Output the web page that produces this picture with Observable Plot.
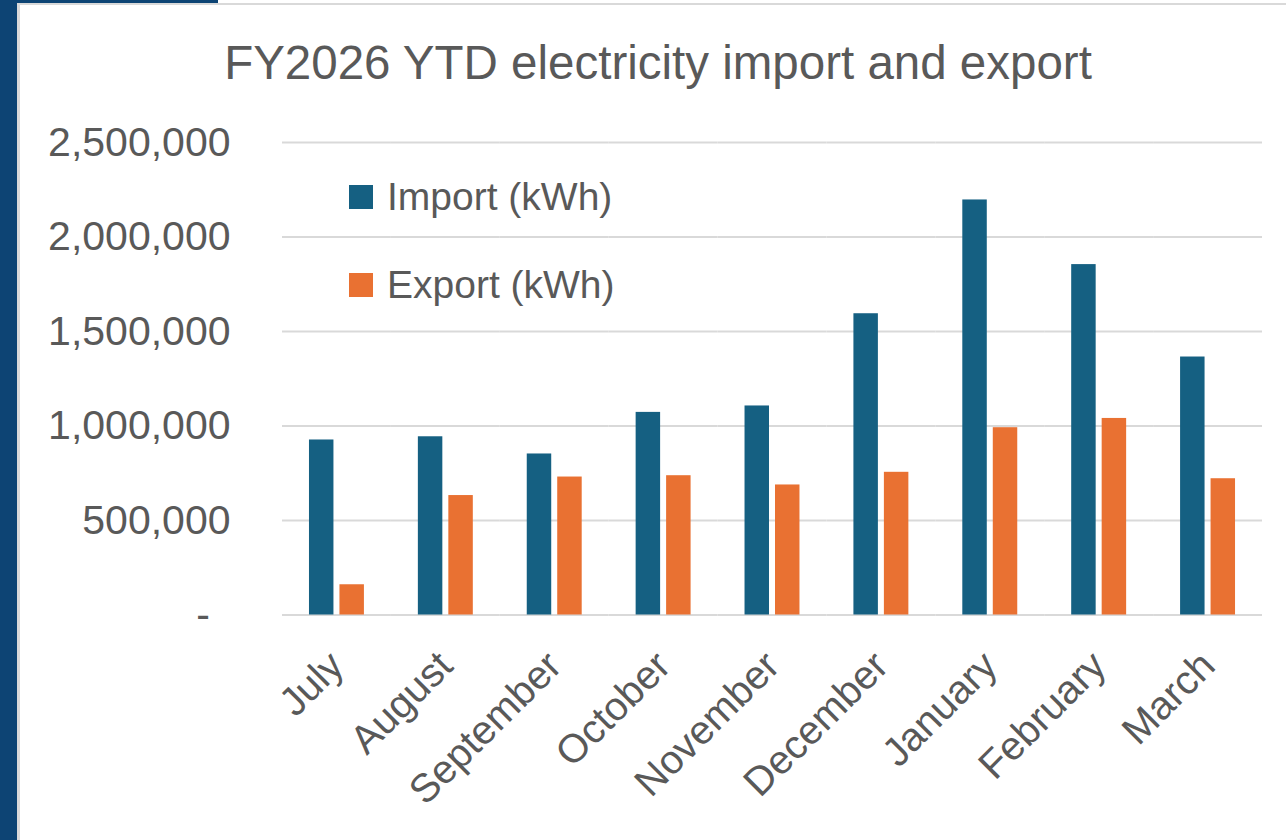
<!DOCTYPE html>
<html>
<head>
<meta charset="utf-8">
<script src="https://cdn.jsdelivr.net/npm/d3@7"></script>
<script src="https://cdn.jsdelivr.net/npm/@observablehq/plot@0.6"></script>
<style>
  html, body { margin: 0; padding: 0; background: #ffffff; }
  #wrap { position: relative; width: 1286px; height: 840px; overflow: hidden; background: #fff; font-family: "Liberation Sans", Arial, sans-serif; color: #595959; }
  .strip-left { position: absolute; left: 0; top: 0; width: 17px; height: 840px; background: #0d4474; }
  .strip-top { position: absolute; left: 0; top: 0; width: 218px; height: 3px; background: #0d4474; }
  .border-left { position: absolute; left: 17px; top: 3px; width: 3px; height: 837px; background: #d9d9d9; }
  .border-top { position: absolute; left: 17px; top: 3px; width: 1269px; height: 2px; background: #d9d9d9; }
  #chart { position: absolute; left: 0; top: 0; }
  #title { position: absolute; left: 658px; top: 39px; transform: translateX(-50%); white-space: nowrap; font-size: 47.5px; line-height: 47px; color: #595959; }
  .legend-item { position: absolute; left: 349px; display: flex; align-items: center; font-size: 39px; line-height: 39px; color: #595959; white-space: nowrap; }
  .legend-swatch { width: 24px; height: 24px; margin-right: 14px; }
</style>
</head>
<body>
<div id="wrap">
  <div class="strip-left"></div>
  <div class="strip-top"></div>
  <div class="border-left"></div>
  <div class="border-top"></div>
  <div id="chart"></div>
  <div id="title"></div>
  <div id="legend"></div>
</div>
<script>
const titleText = "FY2026 YTD electricity import and export";
const months = ["July", "August", "September", "October", "November", "December", "January", "February", "March"];
const importKWh = [926000, 943000, 852000, 1072000, 1106000, 1594000, 2196000, 1854000, 1365000];
const exportKWh = [160000, 632000, 730000, 737000, 688000, 755000, 991000, 1040000, 721000];
const series = ["Import (kWh)", "Export (kWh)"];
const seriesColors = ["#156082", "#E97132"];
const yTicks = [0, 500000, 1000000, 1500000, 2000000, 2500000];
const yTickLabels = ["-\u2002", "500,000", "1,000,000", "1,500,000", "2,000,000", "2,500,000"];

const data = [];
months.forEach((m, i) => {
  data.push({month: m, series: series[0], value: importKWh[i]});
  data.push({month: m, series: series[1], value: exportKWh[i]});
});

document.getElementById("title").textContent = titleText;

const legend = document.getElementById("legend");
const legendTops = [177, 265];
series.forEach((s, i) => {
  const item = document.createElement("div");
  item.className = "legend-item";
  item.style.top = legendTops[i] + "px";
  const sw = document.createElement("span");
  sw.className = "legend-swatch";
  sw.style.background = seriesColors[i];
  const tx = document.createElement("span");
  tx.textContent = s;
  item.appendChild(sw);
  item.appendChild(tx);
  legend.appendChild(item);
});

const chart = Plot.plot({
  width: 1286,
  height: 840,
  marginLeft: 282,
  marginRight: 24,
  marginTop: 142,
  marginBottom: 225.5,
  style: {fontFamily: "'Liberation Sans', Arial, sans-serif", color: "#595959", background: "transparent", overflow: "visible"},
  fx: {domain: months, padding: 0, label: null, round: false},
  x: {domain: series, paddingInner: 0.197, paddingOuter: 0.885, axis: null, round: false},
  y: {domain: [0, 2500000], axis: null},
  color: {domain: series, range: seriesColors},
  marks: [
    Plot.ruleY(yTicks, {stroke: "#d9d9d9", strokeWidth: 2}),
    Plot.barY(data, {fx: "month", x: "series", y: "value", fill: "series"}),
    Plot.axisY({ticks: yTicks, tickFormat: (d, i) => yTickLabels[i], tickSize: 0, tickPadding: 52, fontSize: 41, label: null}),
    Plot.axisFx({anchor: "bottom", tickRotate: -45, tickSize: 0, tickPadding: 44, fontSize: 40, label: null})
  ]
});
document.getElementById("chart").appendChild(chart);
</script>
</body>
</html>
